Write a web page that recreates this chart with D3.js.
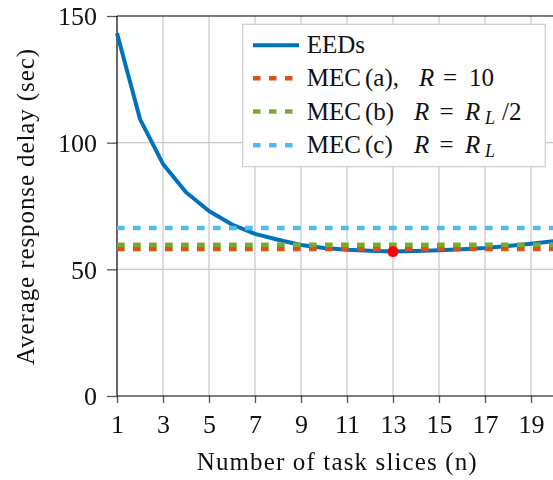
<!DOCTYPE html>
<html>
<head>
<meta charset="utf-8">
<script src="https://cdn.jsdelivr.net/npm/d3@7"></script>
<style>
  html, body { margin: 0; padding: 0; background: #fff; }
</style>
</head>
<body>
<canvas id="warm" width="2" height="2" style="position:absolute;left:0;top:478px"></canvas>
<svg id="chart" width="553" height="480" style="position:absolute;left:0;top:0"></svg>
<script>
// ---- data ----
const slices = [1,2,3,4,5,6,7,8,9,10,11,12,13,14,15,16,17,18,19,20];
const eedsDelay = [143.2,109.3,91.6,80.4,73.0,67.7,64.0,61.7,59.6,58.4,57.7,57.3,57.0,57.2,57.5,57.9,58.4,59.2,60.1,61.1];
const mecA = 58.0;   // MEC (a), R = 10
const mecB = 59.7;   // MEC (b) R = R_L/2
const mecC = 66.3;   // MEC (c) R = R_L
const optimumN = 13;
const optimumDelay = 57.0;
const xTicks = [1,3,5,7,9,11,13,15,17,19];
const yTicks = [0,50,100,150];
const xTitle = "Number of task slices (n)";
const yTitle = "Average response delay (sec)";

(function () {
const FONT = "Liberation Serif";
// warm up the serif font (normal + italic) so SVG text picks it up
const wctx = document.getElementById("warm").getContext("2d");
wctx.fillStyle = "#fff";
wctx.font = "25px Liberation Serif";
wctx.fillText("Average 0123456789 MEC EEDs", 0, 1);
wctx.font = "italic 25px Liberation Serif";
wctx.fillText("R L", 0, 1);

const svg = d3.select("#chart");
const pL = 117, pR = 554, pT = 16, pB = 396;

const x = d3.scaleLinear().domain([1, 20]).range([pL, pR]);
const y = d3.scaleLinear().domain([0, 150]).range([pB, pT]);

const colors = { eeds: "#0072BD", a: "#D95319", b: "#77AC30", c: "#4DBEEE" };

// grid
const grid = svg.append("g");
grid.selectAll("line.v").data(xTicks.filter(d => d > 1)).join("line")
  .attr("x1", d => x(d)).attr("x2", d => x(d)).attr("y1", pT).attr("y2", pB)
  .attr("stroke", "#c8c8c8").attr("stroke-width", 1.2);
grid.selectAll("line.h").data(yTicks.filter(d => d > 0 && d < 150)).join("line")
  .attr("x1", pL).attr("x2", pR).attr("y1", d => y(d)).attr("y2", d => y(d))
  .attr("stroke", "#c8c8c8").attr("stroke-width", 1.2);

// axes
const xAxis = d3.axisBottom(x).tickValues(xTicks).tickSize(7).tickFormat(d3.format("d"));
const gx = svg.append("g").attr("transform", `translate(0,${pB})`).call(xAxis);
gx.attr("font-family", FONT).attr("font-size", 26);
gx.select(".domain").remove();
gx.selectAll(".tick line").attr("stroke", "#555").attr("stroke-width", 1.3);
gx.selectAll(".tick text").attr("dy", null).attr("y", 37.3).attr("fill", "#111")
  .attr("font-family", FONT).attr("font-size", 26);

const yAxis = d3.axisLeft(y).tickValues(yTicks).tickSize(10).tickFormat(d3.format("d"));
const gy = svg.append("g").attr("transform", `translate(${pL},0)`).call(yAxis);
gy.attr("font-family", FONT).attr("font-size", 26);
gy.select(".domain").remove();
gy.selectAll(".tick line").attr("stroke", "#555").attr("stroke-width", 1.3);
gy.selectAll(".tick text").attr("x", -20).attr("dy", "0.34em").attr("fill", "#111")
  .attr("font-family", FONT).attr("font-size", 26);

// frame
const frame = svg.append("g").attr("stroke", "#000").attr("stroke-width", 1.2);
frame.append("line").attr("x1", pL).attr("x2", pL).attr("y1", pT).attr("y2", pB);
frame.append("line").attr("x1", pL).attr("x2", pR).attr("y1", pB).attr("y2", pB);
frame.append("line").attr("x1", pL).attr("x2", pR).attr("y1", pT).attr("y2", pT);
frame.append("line").attr("x1", pR).attr("x2", pR).attr("y1", pT).attr("y2", pB);

// EEDs curve
const line = d3.line().x((d, i) => x(slices[i])).y(d => y(d));
svg.append("path").datum(eedsDelay).attr("d", line)
  .attr("fill", "none").attr("stroke", colors.eeds).attr("stroke-width", 4).attr("stroke-linejoin", "round");

// MEC horizontal dashed lines
[[mecA, colors.a], [mecB, colors.b], [mecC, colors.c]].forEach(([v, c]) => {
  svg.append("line").attr("x1", x(1)).attr("x2", x(20)).attr("y1", y(v)).attr("y2", y(v))
    .attr("stroke", c).attr("stroke-width", 4.5).attr("stroke-dasharray", "7.7,8.3");
});

// optimum marker
svg.append("circle").attr("cx", x(optimumN)).attr("cy", y(optimumDelay)).attr("r", 5.5).attr("fill", "#ff0000");

// axis titles
svg.append("text").attr("x", 336.7).attr("y", 470).attr("text-anchor", "middle")
  .attr("font-family", FONT).attr("font-size", 25).attr("fill", "#111")
  .attr("textLength", 280).attr("lengthAdjust", "spacing").text(xTitle);
svg.append("text").attr("transform", `translate(34,207) rotate(-90)`)
  .attr("text-anchor", "middle").attr("font-family", FONT).attr("font-size", 25).attr("fill", "#111")
  .attr("textLength", 316).attr("lengthAdjust", "spacing").text(yTitle);

// legend
const lg = svg.append("g");
lg.append("rect").attr("x", 242.7).attr("y", 24.3).attr("width", 302.6).attr("height", 142.4)
  .attr("fill", "#fff").attr("stroke", "#ccc").attr("stroke-width", 1.2);
const rows = [
  { c: colors.eeds, dash: null, y: 45.3 },
  { c: colors.a, dash: "7.5,8.5", y: 78.3 },
  { c: colors.b, dash: "7.5,8.5", y: 111.5 },
  { c: colors.c, dash: "7.5,8.5", y: 145.3 }
];
rows.forEach(r => {
  lg.append("line").attr("x1", 253).attr("x2", 299).attr("y1", r.y).attr("y2", r.y)
    .attr("stroke", r.c).attr("stroke-width", r.dash ? 4.5 : 4)
    .attr("stroke-dasharray", r.dash);
});
function legendText(yc, parts) {
  const base = yc + 8;
  const t = lg.append("text").attr("font-family", FONT).attr("font-size", 25).attr("fill", "#111");
  parts.forEach(p => {
    const s = t.append("tspan").attr("x", p.x).attr("y", p.sub ? base + 4 : base).text(p.t);
    if (p.i || p.sub) s.attr("font-style", "italic");
    if (p.sub) s.attr("font-size", 18);
  });
}
legendText(rows[0].y, [{ t: "EEDs", x: 306.7 }]);
legendText(rows[1].y, [{ t: "MEC", x: 306.7 }, { t: "(a),", x: 365 }, { t: "R", x: 419, i: true }, { t: "=", x: 443 }, { t: "10", x: 469 }]);
legendText(rows[2].y, [{ t: "MEC", x: 306.7 }, { t: "(b)", x: 365 }, { t: "R", x: 414, i: true }, { t: "=", x: 439.5 }, { t: "R", x: 465, i: true }, { t: "L", x: 485, sub: true }, { t: "/2", x: 502 }]);
legendText(rows[3].y, [{ t: "MEC", x: 306.7 }, { t: "(c)", x: 365 }, { t: "R", x: 414, i: true }, { t: "=", x: 439.5 }, { t: "R", x: 465, i: true }, { t: "L", x: 485, sub: true }]);
})();
</script>
</body>
</html>
